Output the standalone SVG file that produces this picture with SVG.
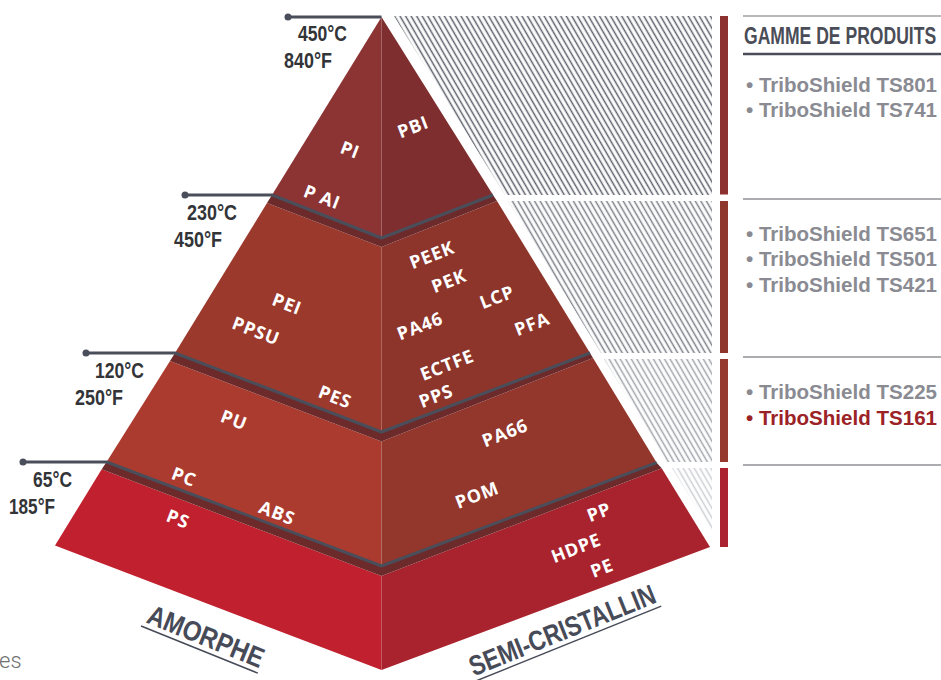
<svg xmlns="http://www.w3.org/2000/svg" width="941" height="680" viewBox="0 0 941 680">
<defs>
<style>
.poly{font-family:"Open Sans","Noto Sans",sans-serif;font-weight:700;font-size:18px;fill:#fff;text-anchor:middle;letter-spacing:0.8px}
.temp{font-family:"Liberation Sans",Arial,sans-serif;font-weight:bold;font-size:22px;fill:#333438}
.cat{font-family:"Liberation Sans",Arial,sans-serif;font-weight:bold;font-size:28px;fill:#474b58;text-anchor:middle}
.item{font-family:"Liberation Sans",Arial,sans-serif;font-weight:bold;font-size:20px;fill:#8a8b92}
.lead{fill:none;stroke:#4a4e5a;stroke-width:3;stroke-linejoin:round}
.strip{fill:#6c2a2b}
.rl{stroke:#8e9096;stroke-width:1.3}
</style>
<pattern id="h1" patternUnits="userSpaceOnUse" width="4.8" height="10" patternTransform="rotate(-30)"><line x1="2.4" y1="-1" x2="2.4" y2="11" stroke="#5c5f6b" stroke-width="1.5"/></pattern>
<pattern id="h2" patternUnits="userSpaceOnUse" width="4.8" height="10" patternTransform="rotate(-30)"><line x1="2.4" y1="-1" x2="2.4" y2="11" stroke="#7c7f89" stroke-width="1.5"/></pattern>
<pattern id="h3" patternUnits="userSpaceOnUse" width="4.8" height="10" patternTransform="rotate(-30)"><line x1="2.4" y1="-1" x2="2.4" y2="11" stroke="#a0a3aa" stroke-width="1.5"/></pattern>
<pattern id="h4" patternUnits="userSpaceOnUse" width="4.8" height="10" patternTransform="rotate(-30)"><line x1="2.4" y1="-1" x2="2.4" y2="11" stroke="#cdced3" stroke-width="1.5"/></pattern>
</defs>
<rect width="941" height="680" fill="#fff"/>

<g id="hatching">
<polygon points="394,16 712,16 712,195 505,195" fill="url(#h1)"/>
<polygon points="508,201 712,201 712,353 601,353" fill="url(#h2)"/>
<polygon points="604,359 712,359 712,462 667,462" fill="url(#h3)"/>
<polygon points="672,468 712,468 712,533" fill="url(#h4)"/>
</g>

<g id="tier1">
<polygon points="381.5,17 272,195 381.5,238" fill="#8c3333"/>
<polygon points="381.5,17 493,195 381.5,238" fill="#7e2e2e"/>
</g>
<g id="tier2">
<polygon points="267,203 175,353 381.5,432 381.5,247" fill="#9b392c"/>
<polygon points="381.5,247 381.5,432 590,353 497,201" fill="#8e352b"/>
<polygon class="strip" points="272,195 381.5,238 493,195 497,201 381.5,247 267,203"/>
</g>
<g id="tier3">
<polygon points="170,361 106.7,461.7 381.5,566 381.5,441.5" fill="#ac3b2f"/>
<polygon points="381.5,441.5 381.5,566 656.7,462.7 593,358" fill="#93362c"/>
<polygon class="strip" points="175,353 381.5,432 590,353 593,358 381.5,441.5 170,361"/>
</g>
<g id="tier4">
<polygon points="101.7,469.3 55,545.5 381.5,670 381.5,576" fill="#c1212f"/>
<polygon points="381.5,576 381.5,670 710,547 661.7,468.3" fill="#a9232e"/>
<polygon class="strip" points="106.7,461.7 381.5,566 656.7,462.7 661.7,468.3 381.5,576 101.7,469.3"/>
</g>

<g id="connectors">
<path class="lead" d="M288,17 H381.5"/>
<path class="lead" d="M185,195 H272 L381.5,238 L493,195"/>
<path class="lead" d="M86,353 H175 L381.5,432 L590,353"/>
<path class="lead" d="M23,462 H106.7 L381.5,566 L656.7,462.7"/>
<circle cx="288" cy="17" r="3.5" fill="#4a4e5a"/>
<circle cx="185" cy="195" r="3.5" fill="#4a4e5a"/>
<circle cx="86" cy="353" r="3.5" fill="#4a4e5a"/>
<circle cx="23" cy="462" r="3.5" fill="#4a4e5a"/>
</g>

<g id="temperatures">
<text class="temp" x="298" y="41" textLength="49" lengthAdjust="spacingAndGlyphs">450°C</text>
<text class="temp" x="284" y="68" textLength="48" lengthAdjust="spacingAndGlyphs">840°F</text>
<text class="temp" x="187" y="220" textLength="50" lengthAdjust="spacingAndGlyphs">230°C</text>
<text class="temp" x="174" y="247" textLength="48" lengthAdjust="spacingAndGlyphs">450°F</text>
<text class="temp" x="95" y="378" textLength="49" lengthAdjust="spacingAndGlyphs">120°C</text>
<text class="temp" x="75" y="405" textLength="48" lengthAdjust="spacingAndGlyphs">250°F</text>
<text class="temp" x="33" y="487" textLength="39" lengthAdjust="spacingAndGlyphs">65°C</text>
<text class="temp" x="9" y="514" textLength="46" lengthAdjust="spacingAndGlyphs">185°F</text>
</g>

<g id="polymers">
<text class="poly" transform="translate(350,150) rotate(21)" dy="0.35em">PI</text>
<text class="poly" transform="translate(322,197) rotate(21)" dy="0.35em">P AI</text>
<text class="poly" transform="translate(413,127) rotate(-21)" dy="0.35em">PBI</text>
<text class="poly" transform="translate(287,304) rotate(21)" dy="0.35em">PEI</text>
<text class="poly" transform="translate(256,331) rotate(21)" dy="0.35em">PPSU</text>
<text class="poly" transform="translate(335,397) rotate(21)" dy="0.35em">PES</text>
<text class="poly" transform="translate(234,420) rotate(21)" dy="0.35em">PU</text>
<text class="poly" transform="translate(432,255) rotate(-21)" dy="0.35em">PEEK</text>
<text class="poly" transform="translate(449,281) rotate(-21)" dy="0.35em">PEK</text>
<text class="poly" transform="translate(497,297) rotate(-21)" dy="0.35em">LCP</text>
<text class="poly" transform="translate(420,326) rotate(-21)" dy="0.35em">PA46</text>
<text class="poly" transform="translate(532,324) rotate(-21)" dy="0.35em">PFA</text>
<text class="poly" transform="translate(447,365) rotate(-21)" dy="0.35em">ECTFE</text>
<text class="poly" transform="translate(436,396) rotate(-21)" dy="0.35em">PPS</text>
<text class="poly" transform="translate(505,433) rotate(-21)" dy="0.35em">PA66</text>
<text class="poly" transform="translate(184,477) rotate(21)" dy="0.35em">PC</text>
<text class="poly" transform="translate(277,513) rotate(21)" dy="0.35em">ABS</text>
<text class="poly" transform="translate(178,519) rotate(21)" dy="0.35em">PS</text>
<text class="poly" transform="translate(477,495) rotate(-21)" dy="0.35em">POM</text>
<text class="poly" transform="translate(599,512) rotate(-21)" dy="0.35em">PP</text>
<text class="poly" transform="translate(576,548) rotate(-21)" dy="0.35em">HDPE</text>
<text class="poly" transform="translate(602,568) rotate(-21)" dy="0.35em">PE</text>
</g>

<g id="categories">
<g transform="translate(206,636) rotate(22)">
<text class="cat" transform="translate(0,10) scale(0.86,1)">AMORPHE</text>
<line x1="-64" y1="15" x2="62" y2="15" stroke="#474b58" stroke-width="1.5"/>
</g>
<g transform="translate(562,630) rotate(-22)">
<text class="cat" transform="translate(0,10) scale(0.82,1)">SEMI-CRISTALLIN</text>
<line x1="-100" y1="15" x2="101" y2="15" stroke="#474b58" stroke-width="1.5"/>
</g>
</g>

<g id="bars">
<rect x="720" y="16" width="8" height="178.5" fill="#8c3030"/>
<rect x="720" y="201" width="8" height="152" fill="#8f372d"/>
<rect x="720" y="359" width="8" height="103" fill="#963a2f"/>
<rect x="720" y="468" width="8" height="79" fill="#ab2330"/>
</g>

<g id="products">
<line x1="743" y1="16" x2="941" y2="16" stroke="#a0a1a6" stroke-width="1.5"/>
<text transform="translate(744,43.5) scale(0.732,1)" style="font-family:'Liberation Sans',Arial,sans-serif;font-weight:bold;font-size:24px;fill:#4a4d57">GAMME DE PRODUITS</text>
<line x1="743" y1="54" x2="941" y2="54" stroke="#4a4d57" stroke-width="2.5"/>
<text class="item" x="746" y="92" textLength="191" lengthAdjust="spacingAndGlyphs">• TriboShield TS801</text>
<text class="item" x="746" y="117" textLength="191" lengthAdjust="spacingAndGlyphs">• TriboShield TS741</text>
<line class="rl" x1="743" y1="199" x2="941" y2="199"/>
<text class="item" x="746" y="241" textLength="191" lengthAdjust="spacingAndGlyphs">• TriboShield TS651</text>
<text class="item" x="746" y="266" textLength="191" lengthAdjust="spacingAndGlyphs">• TriboShield TS501</text>
<text class="item" x="746" y="292" textLength="191" lengthAdjust="spacingAndGlyphs">• TriboShield TS421</text>
<line class="rl" x1="743" y1="357" x2="941" y2="357"/>
<text class="item" x="746" y="399" textLength="191" lengthAdjust="spacingAndGlyphs">• TriboShield TS225</text>
<text class="item" x="746" y="425" textLength="191" lengthAdjust="spacingAndGlyphs" style="fill:#9b2226">• TriboShield TS161</text>
<line class="rl" x1="743" y1="465" x2="941" y2="465"/>
</g>

<text x="-1" y="668" style="font-family:Roboto,'Liberation Sans',sans-serif;font-weight:300;font-size:22px;fill:#707070">es</text>
</svg>
